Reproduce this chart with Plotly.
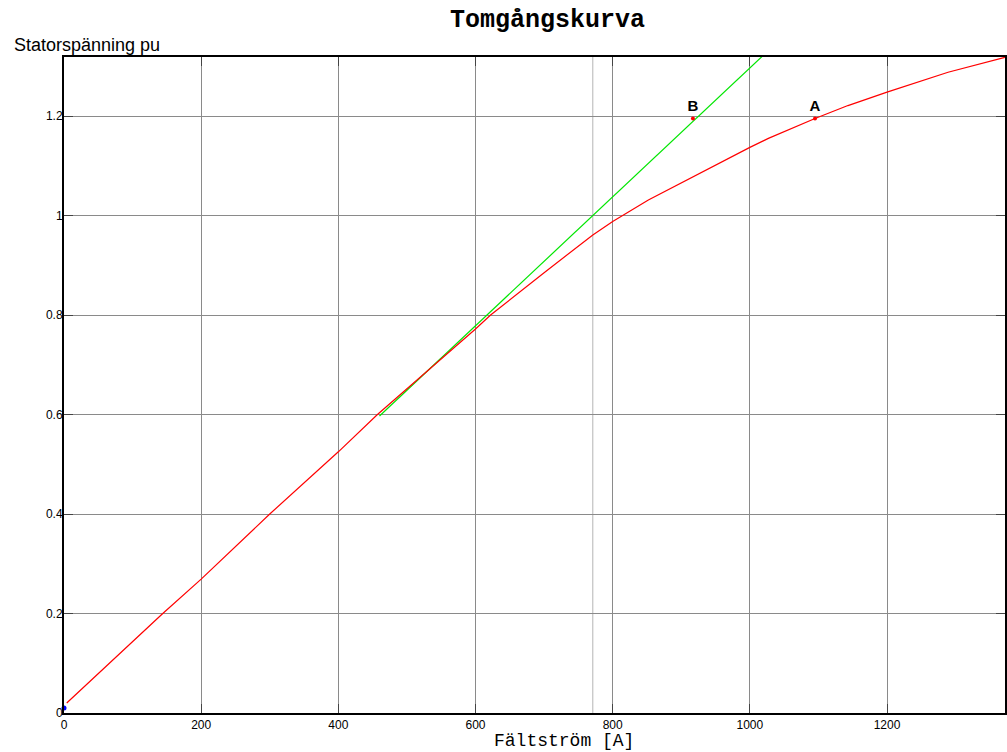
import plotly.graph_objects as go

# Open-circuit characteristic (red)
oc_current = [4, 144, 200, 300, 400, 457, 600, 622, 700, 771, 800, 852, 1000, 1027, 1095, 1143, 1200, 1289, 1372]
oc_voltage = [0.02, 0.2, 0.269, 0.4, 0.525, 0.6, 0.772, 0.8, 0.885, 0.961, 0.988, 1.031, 1.137, 1.155, 1.195, 1.221, 1.248, 1.288, 1.318]

# Air-gap line (green)
gap_current = [460, 1025]
gap_voltage = [0.597, 1.329]

# Marked points
pt_names = ["A", "B"]
pt_current = [1095, 917]
pt_voltage = [1.195, 1.195]

origin_current = [0]
origin_voltage = [0.01]

ref_current = 771  # extra vertical reference line

x_ticks = [0, 200, 400, 600, 800, 1000, 1200]
y_ticks = [0, 0.2, 0.4, 0.6, 0.8, 1.0, 1.2]
y_tick_text = ["0", "0.2", "0.4", "0.6", "0.8", "1", "1.2"]

W, H = 1007, 752
L, R, T, B = 64, 0, 57, 39
PW, PH = W - L - R, H - T - B

fig = go.Figure()

fig.add_trace(go.Scatter(x=gap_current, y=gap_voltage, mode="lines",
                         line=dict(color="#00e600", width=1.2), showlegend=False))
fig.add_trace(go.Scatter(x=oc_current, y=oc_voltage, mode="lines",
                         line=dict(color="#ff0000", width=1.2), showlegend=False))
fig.add_trace(go.Scatter(x=pt_current, y=pt_voltage, mode="markers+text",
                         text=pt_names, textposition="top center",
                         textfont=dict(family="Liberation Sans, Arial", size=15, color="black"),
                         marker=dict(color="#ff0000", size=4), showlegend=False,
                         texttemplate="<b>%{text}</b>"))
fig.add_trace(go.Scatter(x=origin_current, y=origin_voltage, mode="markers",
                         marker=dict(color="#0000ff", size=5), showlegend=False, cliponaxis=False))

fig.add_vline(x=ref_current, line=dict(color="#b4b4b4", width=1), layer="below")

axis_common = dict(
    showgrid=True, gridcolor="#8a8a8a", gridwidth=1,
    showline=True, linecolor="black", linewidth=2, mirror="ticks",
    ticks="inside", ticklen=9, tickcolor="#444444", tickwidth=1,
    zeroline=False,
    tickfont=dict(family="Liberation Sans, Arial", size=12, color="black"),
)

fig.update_layout(
    width=W, height=H,
    margin=dict(l=L, r=R, t=T, b=B),
    paper_bgcolor="white", plot_bgcolor="white",
    xaxis=dict(range=[0, 1372], tickvals=x_ticks, ticktext=[str(v) for v in x_ticks],
               **axis_common),
    yaxis=dict(range=[0, 1.3186], tickvals=y_ticks, ticktext=y_tick_text,
               ticklabelstandoff=-3, **axis_common),
    annotations=[
        dict(text="<b>Tomgångskurva</b>", xref="paper", yref="paper",
             x=(549 - L) / PW, y=1 + (T - 21) / PH, xanchor="center", yanchor="middle",
             showarrow=False,
             font=dict(family="Liberation Mono, Courier New", size=25, color="black")),
        dict(text="Statorspänning pu", xref="paper", yref="paper",
             x=(12 - L) / PW, y=1 + (T - 45) / PH, xanchor="left", yanchor="middle",
             showarrow=False,
             font=dict(family="Liberation Sans, Arial", size=18, color="black")),
        dict(text="Fältström [A]", xref="paper", yref="paper",
             x=(565 - L) / PW, y=-(741 - (H - B)) / PH, xanchor="center", yanchor="middle",
             showarrow=False,
             font=dict(family="Liberation Mono, Courier New", size=18, color="black")),
    ],
)

fig.write_html("out.html", config={"displayModeBar": False},
               post_script="document.body.style.margin='0';document.body.style.overflow='hidden';")
